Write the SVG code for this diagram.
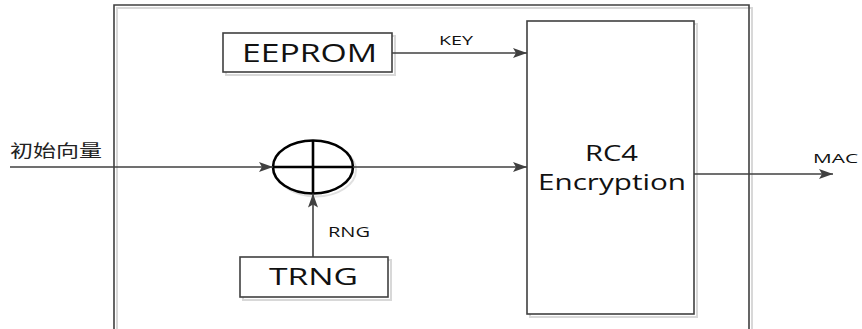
<svg xmlns="http://www.w3.org/2000/svg" width="862" height="329" viewBox="0 0 862 329">
<style>
.box{fill:#fff;stroke:#404040;stroke-width:1.6}
.shadow{fill:none;stroke:#d8d8d8;stroke-width:2}
.line{stroke:#404040;stroke-width:1.6;fill:none}
.lbl{font-family:"Open Sans","Liberation Sans",sans-serif;fill:#111}
.xor{fill:#fff;stroke:#000;stroke-width:2.6}
</style>
<defs>
<marker id="ah" viewBox="0 0 14 10" refX="14" refY="5" markerWidth="14" markerHeight="10" markerUnits="userSpaceOnUse" orient="auto">
<path d="M0,0 L14,5 L0,10 L3,5 Z" fill="#404040"/>
</marker>
</defs>
<rect width="862" height="329" fill="#fff"/>
<g id="frame">
<path class="shadow" d="M117,340 V8 H752 V340"/>
<path class="line" d="M114,340 V5 H749 V340"/>
</g>
<g id="eeprom">
<rect class="shadow" x="226" y="36" width="169" height="39"/>
<rect class="box" x="223" y="33" width="169" height="39"/>
<text class="lbl" x="242" y="62" font-size="25" textLength="135" lengthAdjust="spacingAndGlyphs">EEPROM</text>
</g>
<g id="rc4">
<rect class="shadow" x="530" y="24" width="167" height="293"/>
<rect class="box" x="527" y="21" width="167" height="293"/>
<text class="lbl" x="585" y="161" font-size="21" textLength="53" lengthAdjust="spacingAndGlyphs">RC4</text>
<text class="lbl" x="538" y="190" font-size="21" textLength="148" lengthAdjust="spacingAndGlyphs">Encryption</text>
</g>
<g id="trng">
<rect class="shadow" x="243" y="260" width="148" height="40"/>
<rect class="box" x="240" y="257" width="148" height="40"/>
<text class="lbl" x="269" y="285" font-size="24" textLength="89" lengthAdjust="spacingAndGlyphs">TRNG</text>
</g>
<g id="xor">
<ellipse cx="316" cy="170" rx="40" ry="26.5" fill="none" stroke="#e0e0e0" stroke-width="2"/>
<ellipse class="xor" cx="313" cy="167" rx="40" ry="26.5"/>
<line x1="273" y1="167" x2="353" y2="167" stroke="#000" stroke-width="2.6"/>
<line x1="313" y1="140.5" x2="313" y2="193.5" stroke="#000" stroke-width="2.6"/>
</g>
<g id="connectors">
<line class="line" x1="392" y1="53" x2="527" y2="53" marker-end="url(#ah)"/>
<line class="line" x1="10" y1="167" x2="273" y2="167" marker-end="url(#ah)"/>
<line class="line" x1="353" y1="167" x2="527" y2="167" marker-end="url(#ah)"/>
<line class="line" x1="313" y1="257" x2="313" y2="193.5" marker-end="url(#ah)"/>
<line class="line" x1="694" y1="174" x2="833" y2="174" marker-end="url(#ah)"/>
</g>
<g id="labels">
<text class="lbl" x="439" y="45" font-size="13" textLength="34" lengthAdjust="spacingAndGlyphs">KEY</text>
<text class="lbl" x="328" y="237" font-size="14" textLength="42" lengthAdjust="spacingAndGlyphs">RNG</text>
<text class="lbl" x="813" y="163" font-size="13" textLength="45" lengthAdjust="spacingAndGlyphs">MAC</text>
<text x="10" y="157" font-size="17" fill="#222" font-family="'Noto Sans CJK SC',sans-serif" textLength="92" lengthAdjust="spacingAndGlyphs">初始向量</text>
</g>
</svg>
